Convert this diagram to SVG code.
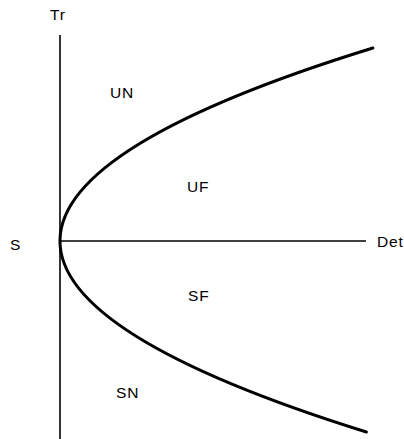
<svg xmlns="http://www.w3.org/2000/svg" width="404" height="439" viewBox="0 0 404 439">
<style>
.lbl{font-family:"Liberation Sans",Arial,sans-serif;font-size:15.5px;fill:#000;letter-spacing:0.8px}
.axis{stroke:#000;stroke-width:1.6;fill:none}
.curve{stroke:#000;stroke-width:3;fill:none;stroke-linecap:round}
</style>
<rect width="404" height="439" fill="#fff"/>
<g id="connectors">
<line class="axis" x1="60" y1="35" x2="60" y2="439"/>
<line class="axis" x1="60" y1="241" x2="366" y2="241"/>
<path class="curve" d="M372.9,48 Q-249.7,240 366.4,432"/>
</g>
<g id="Tr"><text class="lbl" x="50" y="20">Tr</text></g>
<g id="S"><text class="lbl" x="10" y="250">S</text></g>
<g id="Det"><text class="lbl" x="377" y="247">Det</text></g>
<g id="UN"><text class="lbl" x="110" y="98">UN</text></g>
<g id="UF"><text class="lbl" x="187" y="192">UF</text></g>
<g id="SF"><text class="lbl" x="188" y="301">SF</text></g>
<g id="SN"><text class="lbl" x="116" y="398">SN</text></g>
</svg>
